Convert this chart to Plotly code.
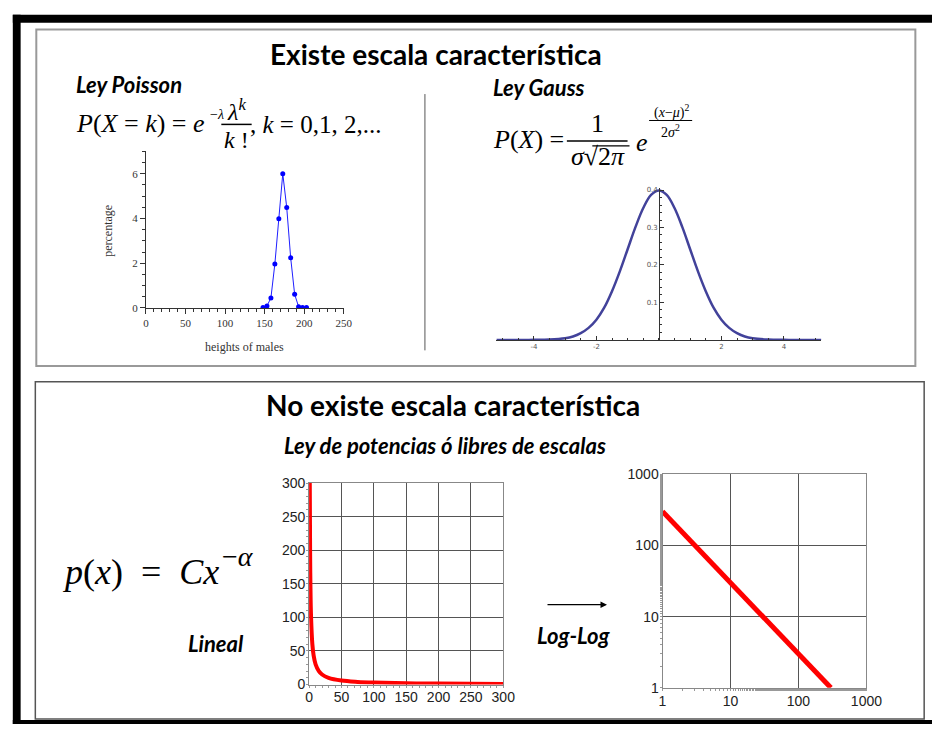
"""
Slide-like figure: characteristic scale (Poisson / Gauss) vs scale-free power law
"""
import plotly.graph_objects as go

W, H = 948, 732

# Poisson panel: heights of males (percentage)
poisson_x = [148, 153, 158, 163, 168, 173, 178, 183, 188, 193, 198, 203]
poisson_y = [0.02, 0.09, 0.45, 1.97, 3.99, 6.0, 4.49, 2.24, 0.61, 0.06, 0.02, 0.02]

# Gauss panel: values
gauss_x = [-5.2, -4.5, -4.0, -3.5, -3.0, -2.75, -2.5, -2.25, -2.0, -1.75, -1.5, -1.25, -1.0,
           -0.75, -0.5, -0.25, 0.0, 0.25, 0.5, 0.75, 1.0, 1.25, 1.5, 1.75, 2.0, 2.25,
           2.5, 2.75, 3.0, 3.5, 4.0, 4.5, 5.2]
gauss_y = [0.0, 0.0, 0.0001, 0.0009, 0.0044, 0.009, 0.018, 0.032, 0.054, 0.086, 0.13, 0.183,
           0.242, 0.301, 0.352, 0.387, 0.399, 0.387, 0.352, 0.301, 0.242, 0.183, 0.13, 0.086,
           0.054, 0.032, 0.018, 0.009, 0.0044, 0.0009, 0.0001, 0.0, 0.0]

# power law panels (same data, linear and log-log)
pl_x = [1, 1.5, 2, 3, 5, 7, 10, 15, 20, 30, 50, 75, 100, 150, 200, 300]
pl_y = [300, 200, 150, 100, 60, 43, 30, 20, 15, 10, 6, 4, 3, 2, 1.5, 1]

gauss_ticks = [-4, -2, 2, 4]
gauss_ticktext = ["-4", "-2", "2", "4"]


def px(x):
    return x / W


def py(y):
    return 1 - y / H


fig = go.Figure()

fig.add_trace(go.Scatter(
    x=poisson_x, y=poisson_y, mode="lines+markers",
    line=dict(color="#1f1fff", width=1), marker=dict(color="#0000ff", size=5),
    xaxis="x", yaxis="y", showlegend=False,
))
fig.add_trace(go.Scatter(
    x=gauss_x, y=gauss_y, mode="lines", line_shape="spline",
    line=dict(color="#42429a", width=2.5),
    xaxis="x2", yaxis="y2", showlegend=False,
))
fig.add_trace(go.Scatter(
    x=pl_x, y=pl_y, mode="lines", line_shape="spline",
    line=dict(color="#ff0000", width=4),
    xaxis="x3", yaxis="y3", showlegend=False,
))
fig.add_trace(go.Scatter(
    x=pl_x, y=pl_y, mode="lines",
    line=dict(color="#ff0000", width=5),
    xaxis="x4", yaxis="y4", showlegend=False,
))

serif = "Liberation Serif"
sans = "Liberation Sans"
title_font = "Lato"

fig.update_layout(
    width=W, height=H, margin=dict(l=0, r=0, t=0, b=0),
    paper_bgcolor="white", plot_bgcolor="white",
    # Poisson
    xaxis=dict(
        domain=[px(145), px(347)], range=[0, 250], anchor="y",
        tickvals=[0, 50, 100, 150, 200, 250], ticks="outside", ticklen=5,
        minor=dict(dtick=10, ticks="outside", ticklen=3, tickcolor="#333"),
        showline=True, linecolor="#333", linewidth=1, tickcolor="#333",
        showgrid=False, zeroline=False,
        tickfont=dict(family=serif, size=11, color="#333"),
    ),
    yaxis=dict(
        domain=[py(306.7), py(146.5)], range=[0, 7], anchor="x",
        tickvals=[0, 2, 4, 6], ticks="outside", ticklen=5,
        minor=dict(dtick=0.5, ticks="outside", ticklen=3, tickcolor="#333"),
        showline=True, linecolor="#333", linewidth=1, tickcolor="#333",
        showgrid=False, zeroline=False,
        tickfont=dict(family=serif, size=11, color="#333"),
    ),
    # Gauss
    xaxis2=dict(
        domain=[px(503), px(835)], range=[-5.2, 5.2], anchor="y2",
        tickvals=gauss_ticks, ticktext=gauss_ticktext, ticks="inside", ticklen=4,
        minor=dict(dtick=0.5, ticks="inside", ticklen=2, tickcolor="#333"),
        showline=True, linecolor="#333", linewidth=1, tickcolor="#333",
        showgrid=False, zeroline=False,
        tickfont=dict(family="DejaVu Sans", size=7, color="#555"),
    ),
    yaxis2=dict(
        domain=[py(339.3), py(184.2)], range=[0, 0.405], anchor="free",
        position=px(669.3),
        tickvals=[0.1, 0.2, 0.3, 0.4], ticks="inside", ticklen=4,
        minor=dict(dtick=0.02, ticks="inside", ticklen=2, tickcolor="#333"),
        showline=True, linecolor="#333", linewidth=1, tickcolor="#333",
        showgrid=False, zeroline=False,
        tickfont=dict(family="DejaVu Sans", size=7, color="#555"),
    ),
    # power law, linear
    xaxis3=dict(
        domain=[px(311.7), px(510)], range=[0, 300], anchor="y3",
        tickvals=[0, 50, 100, 150, 200, 250, 300],
        showline=True, linecolor="#888", mirror=True,
        showgrid=True, gridcolor="#555", gridwidth=1, zeroline=False,
        ticks="", minor=dict(dtick=10, ticks="outside", ticklen=2, tickcolor="#999"),
        tickfont=dict(family=sans, size=14, color="#222"),
    ),
    yaxis3=dict(
        domain=[py(691.7), py(485.7)], range=[0, 300], anchor="x3",
        tickvals=[0, 50, 100, 150, 200, 250, 300],
        showline=True, linecolor="#888", mirror=True,
        showgrid=True, gridcolor="#555", gridwidth=1, zeroline=False,
        ticks="", minor=dict(dtick=10, ticks="outside", ticklen=2, tickcolor="#999"),
        tickfont=dict(family=sans, size=14, color="#222"),
    ),
    # power law, log-log
    xaxis4=dict(
        type="log", domain=[px(672.7), px(881)], range=[0, 3], anchor="y4",
        tickvals=[1, 10, 100, 1000], ticktext=["1", "10", "100", "1000"],
        showline=True, linecolor="#888", mirror=True,
        showgrid=True, gridcolor="#555", gridwidth=1, zeroline=False,
        ticks="", minor=dict(ticks="outside", ticklen=2, tickcolor="#999", showgrid=False),
        tickfont=dict(family=sans, size=14, color="#222"),
    ),
    yaxis4=dict(
        type="log", domain=[py(695), py(476.7)], range=[0, 3], anchor="x4",
        tickvals=[1, 10, 100, 1000], ticktext=["1", "10", "100", "1000"],
        showline=True, linecolor="#888", mirror=True,
        showgrid=True, gridcolor="#555", gridwidth=1, zeroline=False,
        ticks="", minor=dict(ticks="outside", ticklen=2, tickcolor="#999", showgrid=False),
        tickfont=dict(family=sans, size=14, color="#222"),
    ),
)

# frame, boxes and divider
shapes = [
    dict(type="rect", x0=px(9), x1=px(948), y0=py(15), y1=py(7),
         fillcolor="black", line_width=0),
    dict(type="rect", x0=px(9), x1=px(17), y0=py(732), y1=py(7),
         fillcolor="black", line_width=0),
    dict(type="rect", x0=px(9), x1=px(948), y0=py(732), y1=py(728),
         fillcolor="black", line_width=0),
    dict(type="rect", x0=px(33), x1=px(931), y0=py(366), y1=py(22),
         line=dict(color="#999", width=2)),
    dict(type="rect", x0=px(32), x1=px(940), y0=py(727), y1=py(382),
         line=dict(color="#555", width=1.5)),
    dict(type="line", x0=px(430), x1=px(430), y0=py(350), y1=py(88),
         line=dict(color="#555", width=1)),
    # fraction bars
    dict(type="line", x0=px(222), x1=px(253), y0=py(119), y1=py(119),
         line=dict(color="black", width=1.5)),
    dict(type="line", x0=px(575), x1=px(637), y0=py(136), y1=py(136),
         line=dict(color="black", width=1.5)),
    dict(type="line", x0=px(601), x1=px(639), y0=py(141), y1=py(141),
         line=dict(color="black", width=1.2)),
    dict(type="line", x0=px(659), x1=px(703), y0=py(115), y1=py(115),
         line=dict(color="black", width=1)),
]
for s in shapes:
    s.update(xref="paper", yref="paper")
fig.update_layout(shapes=shapes)


def note(text, x, y, size, family=title_font, xanchor="center", color="black", angle=0):
    fig.add_annotation(
        text=text, x=px(x), y=py(y), xref="paper", yref="paper",
        xanchor=xanchor, yanchor="middle", showarrow=False, textangle=angle,
        font=dict(family=family, size=size, color=color),
    )


NB = "\u00a0"

# headings
note("<b>Existe escala característica</b>", 441, 47, 28)
note("<b>No existe escala característica</b>", 459, 406, 28)
note("<b><i>Ley de potencias ó libres de escalas</i></b>", 450, 447, 22)
note("<b><i>Ley Poisson</i></b>", 71, 78, 22, xanchor="left")
note("<b><i>Ley Gauss</i></b>", 498, 81, 22, xanchor="left")
note("<b><i>Lineal</i></b>", 186, 650, 22, xanchor="left")
note("<b><i>Log-Log</i></b>", 542, 642, 22, xanchor="left")

# Poisson axis titles
note("percentage", 106, 228, 12, family=serif, color="#333", angle=-90)
note("heights of males", 246, 347, 12, family=serif, color="#333")

# Poisson formula
note("<i>P</i>(<i>X</i> = <i>k</i>) = <i>e</i>", 72, 118, 26, family=serif, xanchor="left")
note("−<i>λ</i>", 208, 109, 14, family=serif, xanchor="left")
note("<i>λ</i><sup><i>k</i></sup>", 237, 104, 24, family=serif)
note("<i>k</i> !", 237, 135, 24, family=serif)
note(", <i>k</i> = 0,1, 2,...", 249, 119, 25, family=serif, xanchor="left")

# Gauss formula
note("<i>P</i>(<i>X</i>) =", 497, 134, 26, family=serif, xanchor="left")
note("1", 606, 118, 26, family=serif)
note("<i>σ</i>√2<i>π</i>", 607, 152, 26, family=serif)
note("<i>e</i>", 652, 137, 26, family=serif)
note("(<i>x</i>−<i>μ</i>)<sup>2</sup>", 682, 106, 14, family=serif)
note("2<i>σ</i><sup>2</sup>", 681, 126, 14, family=serif)

# power law formula
note("<i>p</i>(<i>x</i>)" + NB * 2 + "=" + NB * 2 + "<i>Cx</i>", 57, 577, 36,
     family=serif, xanchor="left")
note("−<i>α</i>", 221, 561, 28, family=serif, xanchor="left")

# arrow between linear and log-log
fig.add_annotation(
    x=px(616), y=py(610), ax=-61, ay=0, xref="paper", yref="paper",
    showarrow=True, arrowhead=2, arrowsize=1,
    arrowwidth=1.3, arrowcolor="black", text="",
)

fig.write_html("out.html", config={"displayModeBar": False},
               post_script="document.body.style.margin='0';")
